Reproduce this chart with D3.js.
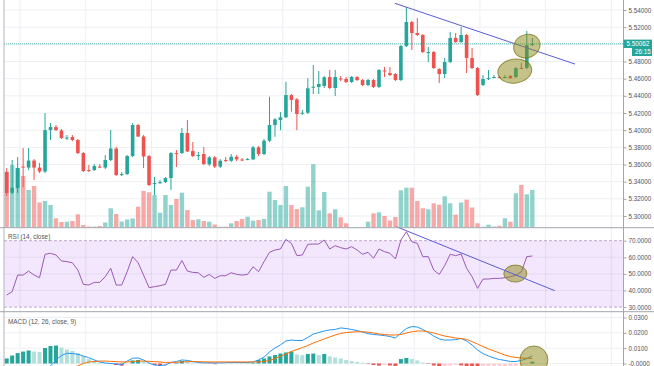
<!DOCTYPE html>
<html>
<head>
<meta charset="utf-8">
<script src="https://cdn.jsdelivr.net/npm/d3@7"></script>
<style>
html, body { margin: 0; padding: 0; background: #fff; }
svg { display: block; font-family: "Liberation Sans", Arial, sans-serif; }
</style>
</head>
<body>
<svg id="chart" width="654" height="366"></svg>
<script>
// candles (oldest first)
var opens = [5.3512,5.3271,5.3325,5.3576,5.3564,5.3646,5.3564,5.3518,5.4001,5.4036,
  5.3996,5.3908,5.3920,5.3885,5.3733,5.3535,5.3535,5.3576,5.3564,5.3652,
  5.3786,5.3483,5.3488,5.3698,5.4060,5.3926,5.3698,5.3378,5.3389,5.3395,
  5.3442,5.3733,5.3733,5.3967,5.3757,5.3704,5.3722,5.3602,5.3683,5.3576,
  5.3652,5.3644,5.3690,5.3658,5.3658,5.3660,5.3800,5.3722,5.3877,5.4060,
  5.4118,5.4150,5.4409,5.4359,5.4194,5.4203,5.4497,5.4503,5.4514,5.4619,
  5.4491,5.4602,5.4596,5.4561,5.4619,5.4584,5.4526,5.4584,5.4503,5.4695,
  5.4666,5.4654,5.4584,5.4980,5.5260,5.5132,5.5109,5.4905,5.4910,5.4712,
  5.4654,5.4794,5.5074,5.5027,5.5109,5.4841,5.4724,5.4526,5.4602,5.4613,
  5.4619,5.4613,5.4631,5.4619,5.4724,5.4724,5.4992];
var highs = [5.3558,5.3652,5.3687,5.3792,5.3792,5.3663,5.3617,5.4200,5.4083,5.4060,
  5.4013,5.3943,5.3943,5.3897,5.3745,5.3593,5.3605,5.3605,5.3710,5.4001,
  5.3803,5.3512,5.3710,5.4083,5.4071,5.3943,5.3710,5.3454,5.3419,5.3454,
  5.3745,5.3768,5.4025,5.4118,5.3862,5.3745,5.3803,5.3698,5.3698,5.3663,
  5.3687,5.3722,5.3710,5.3675,5.3675,5.3815,5.3815,5.3897,5.4390,5.4141,
  5.4211,5.4564,5.4421,5.4374,5.4235,5.4604,5.4759,5.4689,5.4631,5.4701,
  5.4701,5.4631,5.4619,5.4631,5.4631,5.4596,5.4596,5.4596,5.4712,5.4736,
  5.4736,5.4666,5.4992,5.5435,5.5272,5.5307,5.5120,5.4969,5.4922,5.4724,
  5.4841,5.5144,5.5132,5.5202,5.5120,5.4957,5.4736,5.4642,5.4701,5.4642,
  5.4631,5.4642,5.4642,5.4736,5.4782,5.5155,5.5074];
var lows = [5.3232,5.3256,5.3267,5.3337,5.3535,5.3419,5.3500,5.3500,5.3885,5.3990,
  5.3897,5.3885,5.3873,5.3722,5.3512,5.3512,5.3524,5.3558,5.3547,5.3640,
  5.3465,5.3465,5.3477,5.3687,5.3920,5.3558,5.3349,5.3244,5.3372,5.3384,
  5.3302,5.3570,5.3722,5.3745,5.3687,5.3652,5.3593,5.3582,5.3558,5.3558,
  5.3628,5.3628,5.3640,5.3640,5.3652,5.3652,5.3698,5.3710,5.3862,5.3923,
  5.4001,5.4141,5.4215,5.4001,5.4176,5.4188,5.4421,5.4421,5.4491,5.4479,
  5.4398,5.4572,5.4549,5.4549,5.4572,5.4514,5.4514,5.4491,5.4491,5.4619,
  5.4631,5.4572,5.4572,5.4969,5.4934,5.5097,5.4899,5.4794,5.4712,5.4549,
  5.4607,5.4782,5.5015,5.5015,5.4666,5.4712,5.4398,5.4514,5.4584,5.4607,
  5.4607,5.4607,5.4596,5.4607,5.4712,5.4712,5.4980];
var closes = [5.3267,5.3331,5.3558,5.3570,5.3646,5.3564,5.3518,5.4001,5.4036,5.4001,
  5.3908,5.3914,5.3885,5.3733,5.3524,5.3529,5.3582,5.3570,5.3652,5.3786,
  5.3477,5.3488,5.3698,5.4060,5.3926,5.3693,5.3360,5.3384,5.3395,5.3442,
  5.3733,5.3727,5.3967,5.3751,5.3698,5.3710,5.3605,5.3683,5.3576,5.3644,
  5.3646,5.3690,5.3660,5.3652,5.3663,5.3800,5.3722,5.3877,5.4060,5.4126,
  5.4150,5.4409,5.4351,5.4188,5.4203,5.4487,5.4506,5.4538,5.4616,5.4491,
  5.4619,5.4596,5.4561,5.4619,5.4584,5.4526,5.4584,5.4503,5.4701,5.4689,
  5.4642,5.4584,5.4980,5.5260,5.5132,5.5109,5.4910,5.4910,5.4724,5.4654,
  5.4794,5.5074,5.5027,5.5109,5.4841,5.4724,5.4409,5.4596,5.4607,5.4619,
  5.4613,5.4619,5.4607,5.4724,5.4718,5.4992,5.50062];
var volumes = [558,625,595,515,375,415,250,265,225,92,
  55,58,65,132,25,10,10,15,50,192,
  135,60,80,90,208,365,352,325,148,325,
  225,285,348,175,75,82,65,58,30,8,
  8,42,65,85,108,68,75,85,358,275,
  225,415,225,185,202,408,633,172,355,142,
  182,102,42,5,5,5,58,142,152,115,
  70,105,372,398,398,265,192,182,242,228,
  312,242,128,250,278,200,42,8,28,10,
  17,92,58,342,425,332,375];

// RSI (14, close)
var rsi = [37.3,39.3,49.3,49.3,51.7,49.3,47.7,61.8,62.4,61.4,
  57.8,57.4,56.7,52.3,43.7,43.3,44.9,44.9,48.3,53.4,
  43.3,43.3,51.3,60.4,56.7,49.3,41.7,42.3,42.9,43.7,
  52.3,52.3,58.0,51.7,50.9,50.7,47.9,49.7,47.3,48.9,
  48.9,50.7,49.7,49.3,49.7,54.3,51.3,57.4,63.0,64.4,
  65.0,70.8,68.4,61.0,61.4,67.8,68.0,68.0,70.4,65.0,
  67.0,65.8,65.0,66.4,64.4,61.8,63.0,59.4,65.0,63.4,
  62.4,59.0,70.4,75.4,69.4,68.4,60.4,60.4,52.3,49.7,
  55.0,61.8,61.0,62.0,53.4,48.3,41.3,46.9,46.9,47.3,
  47.3,47.7,48.3,49.3,51.3,60.4,60.8];

// MACD (12, 26, close, 9)
var macdLine = [-0.0160,-0.0150,-0.0130,-0.0110,-0.0090,-0.0075,-0.0062,-0.0040,-0.0017,0.0023,
  0.0052,0.0067,0.0065,0.0060,0.0049,0.0038,0.0023,0.0010,0.0003,0.0000,
  -0.0003,-0.0007,0.0016,0.0034,0.0036,0.0023,0.0003,-0.0010,-0.0013,-0.0010,
  0.0007,0.0013,0.0023,0.0020,0.0013,0.0007,0.0004,0.0005,0.0003,0.0004,
  0.0005,0.0007,0.0007,0.0006,0.0007,0.0010,0.0023,0.0042,0.0075,0.0101,
  0.0121,0.0147,0.0153,0.0150,0.0150,0.0170,0.0192,0.0202,0.0212,0.0219,
  0.0222,0.0232,0.0228,0.0222,0.0215,0.0205,0.0195,0.0189,0.0186,0.0182,
  0.0176,0.0166,0.0199,0.0228,0.0241,0.0238,0.0222,0.0202,0.0179,0.0160,
  0.0153,0.0153,0.0156,0.0163,0.0147,0.0121,0.0088,0.0065,0.0049,0.0036,
  0.0026,0.0020,0.0013,0.0013,0.0020,0.0032,0.0050];
var signalLine = [-0.0200,-0.0195,-0.0188,-0.0180,-0.0170,-0.0160,-0.0150,-0.0140,-0.0125,-0.0100,
  -0.0070,-0.0045,-0.0025,-0.0016,0.0000,0.0010,0.0013,0.0016,0.0016,0.0014,
  0.0012,0.0010,0.0010,0.0013,0.0016,0.0016,0.0014,0.0012,0.0010,0.0007,
  0.0007,0.0008,0.0010,0.0012,0.0013,0.0012,0.0011,0.0010,0.0010,0.0010,
  0.0010,0.0010,0.0010,0.0010,0.0010,0.0010,0.0010,0.0013,0.0020,0.0033,
  0.0046,0.0062,0.0078,0.0091,0.0104,0.0117,0.0134,0.0147,0.0160,0.0173,
  0.0186,0.0196,0.0202,0.0205,0.0207,0.0207,0.0205,0.0199,0.0192,0.0189,
  0.0186,0.0186,0.0189,0.0199,0.0207,0.0212,0.0212,0.0207,0.0199,0.0189,
  0.0179,0.0173,0.0166,0.0163,0.0157,0.0143,0.0127,0.0111,0.0095,0.0082,
  0.0069,0.0055,0.0046,0.0039,0.0036,0.0034,0.0033];
var histogram = [0.0033,0.0052,0.0068,0.0078,0.0085,0.0078,0.0075,0.0101,0.0114,0.0117,
  0.0104,0.0091,0.0082,0.0068,0.0049,0.0029,0.0016,0.0007,0.0003,-0.0002,
  -0.0010,-0.0014,-0.0004,0.0020,0.0023,0.0016,0.0003,-0.0010,-0.0016,-0.0014,
  -0.0003,0.0005,0.0016,0.0013,0.0007,0.0002,-0.0001,-0.0002,-0.0004,-0.0002,
  -0.0001,0.0001,0.0001,0.0001,0.0002,0.0005,0.0023,0.0033,0.0046,0.0055,
  0.0065,0.0072,0.0078,0.0059,0.0055,0.0062,0.0065,0.0055,0.0062,0.0046,
  0.0039,0.0033,0.0023,0.0016,0.0010,0.0005,-0.0003,-0.0010,-0.0013,-0.0010,
  -0.0013,-0.0016,0.0029,0.0036,0.0029,0.0020,0.0007,-0.0003,-0.0013,-0.0020,
  -0.0018,-0.0014,-0.0010,-0.0012,-0.0018,-0.0024,-0.0030,-0.0028,-0.0026,-0.0024,
  -0.0022,-0.0020,-0.0018,-0.0016,-0.0010,-0.0003,0.0012];

var priceTicks = [5.30,5.32,5.34,5.36,5.38,5.40,5.42,5.44,5.46,5.48,5.50,5.52,5.54];
var rsiTicks = [30,40,50,60,70];
var macdTicks = [0,0.01,0.02,0.03];
var lastPriceText = "5.50062";
var countdownText = "26:15";

var UP = "#26a69a", DOWN = "#ef5350";
var GRID = "#eceff4";

var svg = d3.select("#chart");
var axisX = 623.5, leftX = 4;
var mainBottom = 227.7, rsiBottom = 311.7, H = 366;

var x = d3.scaleLinear().domain([0, 96]).range([6.7, 532.3]);
var y = d3.scaleLinear().domain([5.30, 5.54]).range([216, 10]);
var yVol = d3.scaleLinear().domain([0, 700]).range([227.5, 157.5]);
var yRsi = d3.scaleLinear().domain([30, 70]).range([307.1, 240.7]);
var yMacd = d3.scaleLinear().domain([0, 0.03]).range([363.5, 317.5]);

var defs = svg.append("defs");
function clip(id, y0, y1){
  defs.append("clipPath").attr("id", id).append("rect")
    .attr("x", leftX).attr("y", y0).attr("width", axisX - leftX).attr("height", y1 - y0);
}
clip("cMain", 0, mainBottom);
clip("cRsi", mainBottom, rsiBottom);
clip("cMacd", rsiBottom, H);

// vertical grid (every 12 bars)
var gridIdx = d3.range(2.43, 112, 12);
svg.append("g").selectAll("line").data(gridIdx).enter().append("line")
  .attr("x1", function(d){ return x(d); }).attr("x2", function(d){ return x(d); })
  .attr("y1", 0).attr("y2", H)
  .attr("stroke", GRID).attr("stroke-width", 1);

// horizontal grids
svg.append("g").selectAll("line").data(priceTicks).enter().append("line")
  .attr("x1", leftX).attr("x2", axisX)
  .attr("y1", function(d){ return y(d); }).attr("y2", function(d){ return y(d); })
  .attr("stroke", GRID);
svg.append("g").selectAll("line").data(macdTicks).enter().append("line")
  .attr("x1", leftX).attr("x2", axisX)
  .attr("y1", function(d){ return yMacd(d); }).attr("y2", function(d){ return yMacd(d); })
  .attr("stroke", GRID);

// ---- main pane
var main = svg.append("g").attr("clip-path", "url(#cMain)");

main.selectAll("rect.vol").data(volumes).enter().append("rect")
  .attr("class", "vol")
  .attr("x", function(d, i){ return x(i) - 2.2; })
  .attr("width", 4.4)
  .attr("y", function(d){ return yVol(d); })
  .attr("height", function(d){ return yVol(0) - yVol(d); })
  .attr("fill", function(d, i){ return closes[i] >= opens[i] ? UP : DOWN; })
  .attr("fill-opacity", 0.5);

var candles = main.selectAll("g.c").data(opens).enter().append("g")
  .attr("fill", function(d, i){ return closes[i] >= opens[i] ? UP : DOWN; })
  .attr("stroke", function(d, i){ return closes[i] >= opens[i] ? UP : DOWN; });
candles.append("line")
  .attr("x1", function(d, i){ return x(i); }).attr("x2", function(d, i){ return x(i); })
  .attr("y1", function(d, i){ return y(highs[i]); })
  .attr("y2", function(d, i){ return y(lows[i]); })
  .attr("stroke-width", 1);
candles.append("rect")
  .attr("stroke", "none")
  .attr("x", function(d, i){ return x(i) - 1.8; })
  .attr("width", 3.6)
  .attr("y", function(d, i){ return y(Math.max(opens[i], closes[i])); })
  .attr("height", function(d, i){
    return Math.max(1, Math.abs(y(opens[i]) - y(closes[i])));
  });

// last price line
var lastClose = closes[closes.length - 1];
main.append("line")
  .attr("x1", leftX).attr("x2", axisX)
  .attr("y1", y(lastClose)).attr("y2", y(lastClose))
  .attr("stroke", UP).attr("stroke-opacity", 0.75)
  .attr("stroke-dasharray", "1,1");

// trend line + highlights
var TREND = "#5b5bd8";
main.append("line")
  .attr("x1", x(70.9)).attr("y1", y(5.5478))
  .attr("x2", x(103.8)).attr("y2", y(5.4770))
  .attr("stroke", TREND).attr("stroke-width", 1);

function blob(g, cx, cy, rx, ry, rot){
  g.append("ellipse")
    .attr("cx", cx).attr("cy", cy).attr("rx", rx).attr("ry", ry)
    .attr("transform", "rotate(" + (rot || 0) + "," + cx + "," + cy + ")")
    .attr("fill", "rgba(140,135,20,0.5)")
    .attr("stroke", "rgba(120,115,20,0.75)").attr("stroke-width", 1);
}
blob(main, x(95.0), y(5.4980), 13.5, 11.5, -25);
blob(main, x(92.8), y(5.4689), 17, 12, -8);

// ---- RSI pane
var rp = svg.append("g").attr("clip-path", "url(#cRsi)");
rp.append("rect")
  .attr("x", leftX).attr("width", axisX - leftX)
  .attr("y", yRsi(70)).attr("height", yRsi(30) - yRsi(70))
  .attr("fill", "rgba(150,60,230,0.12)");
rp.selectAll("line.g").data([40, 50, 60]).enter().append("line")
  .attr("x1", leftX).attr("x2", axisX)
  .attr("y1", function(d){ return yRsi(d); }).attr("y2", function(d){ return yRsi(d); })
  .attr("stroke", "rgba(150,120,190,0.12)");
rp.selectAll("line.b").data([30, 70]).enter().append("line")
  .attr("x1", leftX).attr("x2", axisX)
  .attr("y1", function(d){ return yRsi(d); }).attr("y2", function(d){ return yRsi(d); })
  .attr("stroke", "#bfa8cc").attr("stroke-dasharray", "3,2");
rp.append("path").datum(rsi)
  .attr("d", d3.line().x(function(d, i){ return x(i); }).y(function(d){ return yRsi(d); }))
  .attr("fill", "none").attr("stroke", "#9b59b6").attr("stroke-width", 1);

svg.append("line")
  .attr("x1", x(71.2)).attr("y1", yRsi(78.4))
  .attr("x2", x(100.1)).attr("y2", yRsi(39.9))
  .attr("stroke", TREND).attr("stroke-width", 1);
blob(rp, x(92.9), yRsi(50.2), 11.5, 8.5, 0);

// ---- MACD pane
var mp = svg.append("g").attr("clip-path", "url(#cMacd)");
mp.selectAll("rect").data(histogram).enter().append("rect")
  .attr("x", function(d, i){ return x(i) - 2; })
  .attr("width", 4)
  .attr("y", function(d){ return yMacd(Math.max(0, d)); })
  .attr("height", function(d){ return Math.abs(yMacd(d) - yMacd(0)); })
  .attr("fill", function(d, i){
    var prev = i > 0 ? histogram[i - 1] : d;
    if (d >= 0) return d >= prev ? "#26a69a" : "#b2dfdb";
    return d <= prev ? "#ef5350" : "#ffcdd2";
  });
var mline = d3.line().x(function(d, i){ return x(i); }).y(function(d){ return yMacd(d); });
mp.append("path").datum(macdLine).attr("d", mline)
  .attr("fill", "none").attr("stroke", "#2196f3").attr("stroke-width", 1);
mp.append("path").datum(signalLine).attr("d", mline)
  .attr("fill", "none").attr("stroke", "#ff6d00").attr("stroke-width", 1);
blob(mp, x(96.3), yMacd(0.0023), 14, 14, 0);

// ---- frame
svg.append("line").attr("x1", leftX).attr("x2", leftX).attr("y1", 0).attr("y2", H)
  .attr("stroke", "#b2b5be");
[mainBottom, rsiBottom].forEach(function(yy){
  svg.append("line").attr("x1", 0).attr("x2", 654).attr("y1", yy).attr("y2", yy)
    .attr("stroke", "#a3a6ad");
});

// ---- right scales (the 5.50 label sits under the last-price tag, so it is not drawn)
function styleAxis(g){
  g.select(".domain").remove();
  g.selectAll(".tick line").attr("stroke", "#a3a6ad");
  g.selectAll(".tick text").attr("fill", "#50535e").attr("font-size", "6.3px")
    .attr("font-family", "Liberation Sans, Arial, sans-serif");
}
var lastClose = closes[closes.length - 1];
var shownPriceTicks = priceTicks.filter(function(t){ return Math.abs(y(t) - y(lastClose)) > 7; });
svg.append("g").attr("transform", "translate(" + axisX + ",0)")
  .call(d3.axisRight(y).tickValues(shownPriceTicks).tickSize(3).tickPadding(2)
    .tickFormat(d3.format(".5f")))
  .call(styleAxis);
svg.append("g").attr("transform", "translate(" + axisX + ",0)")
  .call(d3.axisRight(yRsi).tickValues(rsiTicks).tickSize(3).tickPadding(2)
    .tickFormat(d3.format(".4f")))
  .call(styleAxis);
svg.append("g").attr("transform", "translate(" + axisX + ",0)")
  .call(d3.axisRight(yMacd).tickValues(macdTicks).tickSize(3).tickPadding(2)
    .tickFormat(function(d){ return d === 0 ? "-0.0000" : d3.format(".4f")(d); }))
  .call(styleAxis);
svg.append("line").attr("x1", axisX).attr("x2", axisX).attr("y1", 0).attr("y2", H)
  .attr("stroke", "#a3a6ad");

// last price tag
var ly = y(lastClose);
svg.append("rect").attr("x", axisX).attr("y", ly - 4.2).attr("width", 28.5).attr("height", 8.4)
  .attr("fill", UP);
svg.append("text").attr("x", axisX + 3).attr("y", ly + 2.2)
  .attr("fill", "#fff").attr("font-size", "6.3px").text(lastPriceText);
svg.append("rect").attr("x", axisX + 8.5).attr("y", ly + 4.2).attr("width", 20).attr("height", 8)
  .attr("fill", UP);
svg.append("text").attr("x", axisX + 11.5).attr("y", ly + 10.3)
  .attr("fill", "#fff").attr("font-size", "6.3px").text(countdownText);

// pane titles
svg.append("text").attr("x", 8).attr("y", 238.8).attr("fill", "#555")
  .attr("font-size", "6.4px").text("RSI (14, close)");
svg.append("text").attr("x", 8).attr("y", 324.3).attr("fill", "#555")
  .attr("font-size", "6.4px").text("MACD (12, 26, close, 9)");
</script>
</body>
</html>
